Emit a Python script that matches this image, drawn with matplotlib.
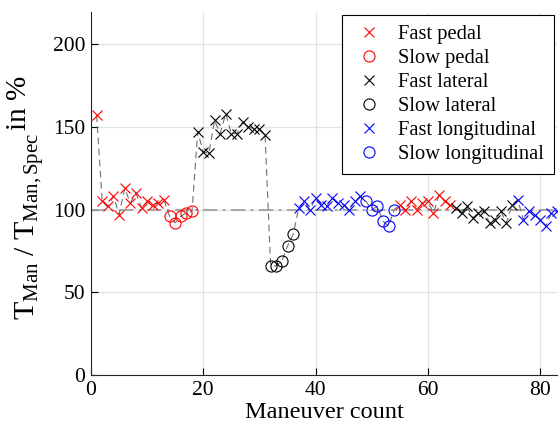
import matplotlib
matplotlib.use("Agg")
import matplotlib.pyplot as plt
import numpy as np

plt.rcParams['font.family'] = ['Liberation Serif', 'DejaVu Serif']
plt.rcParams['mathtext.fontset'] = 'custom'
plt.rcParams['mathtext.rm'] = 'Liberation Serif'
plt.rcParams['mathtext.it'] = 'Liberation Serif:italic'

# ---- data ----
fast_pedal_x1 = list(range(1, 14))
fast_pedal_y1 = [157, 105, 102, 108, 97, 113, 104, 110, 101, 105, 103, 104, 106]
slow_pedal_x = list(range(14, 19))
slow_pedal_y = [96, 92, 96, 98, 99]
fast_lateral_x1 = list(range(19, 32))
fast_lateral_y1 = [147, 135, 134, 154, 146, 158, 146, 146, 153, 150, 149, 149, 145]
slow_lateral_x = list(range(32, 37))
slow_lateral_y = [66, 66, 69, 78, 85]
fast_long_x1 = list(range(37, 49))
fast_long_y1 = [101, 105, 100, 107, 103, 102, 107, 104, 103, 100, 105, 108]
slow_long_x = list(range(49, 55))
slow_long_y = [105, 100, 102, 93, 90, 100]
fast_pedal_x2 = list(range(55, 65))
fast_pedal_y2 = [103, 100, 105, 100, 104, 105, 98, 109, 105, 103]
fast_lateral_x2 = list(range(65, 76))
fast_lateral_y2 = [101, 98, 102, 95, 98, 99, 92, 94, 99, 92, 103]
fast_long_x2 = list(range(76, 84))
fast_long_y2 = [106, 94, 99, 97, 94, 90, 98, 99]

reference_level = 100
x_ticks = [0, 20, 40, 60, 80]
y_ticks = [0, 50, 100, 150, 200]

# ---- figure ----
fig = plt.figure(figsize=(5.58, 4.37), dpi=100)
ax = fig.add_axes([91/558, 1-375/437, 466/558, 363/437])

all_x = (fast_pedal_x1 + slow_pedal_x + fast_lateral_x1 + slow_lateral_x +
         fast_long_x1 + slow_long_x + fast_pedal_x2 + fast_lateral_x2 + fast_long_x2)
all_y = (fast_pedal_y1 + slow_pedal_y + fast_lateral_y1 + slow_lateral_y +
         fast_long_y1 + slow_long_y + fast_pedal_y2 + fast_lateral_y2 + fast_long_y2)

ax.axhline(reference_level, color='#a0a0a0', linestyle=(0, (8, 3, 1.5, 3)), lw=1.3, zorder=1)
ax.plot(all_x, all_y, color='#707070', linestyle=(0, (6, 4)), lw=0.8, zorder=2)

ms_x = 6.5
ms_o = 8
mew = 0.8
ax.plot(fast_pedal_x1, fast_pedal_y1, 'x', color='red', ms=ms_x, mew=mew, label='Fast pedal', zorder=3)
ax.plot(fast_pedal_x2, fast_pedal_y2, 'x', color='red', ms=ms_x, mew=mew, zorder=3)
ax.plot(slow_pedal_x, slow_pedal_y, 'o', mfc='none', mec='red', ms=ms_o, mew=mew, label='Slow pedal', zorder=3)
ax.plot(fast_lateral_x1, fast_lateral_y1, 'x', color='black', ms=ms_x, mew=mew, label='Fast lateral', zorder=3)
ax.plot(fast_lateral_x2, fast_lateral_y2, 'x', color='black', ms=ms_x, mew=mew, zorder=3)
ax.plot(slow_lateral_x, slow_lateral_y, 'o', mfc='none', mec='black', ms=ms_o, mew=mew, label='Slow lateral', zorder=3)
ax.plot(fast_long_x1, fast_long_y1, 'x', color='blue', ms=ms_x, mew=mew, label='Fast longitudinal', zorder=3)
ax.plot(fast_long_x2, fast_long_y2, 'x', color='blue', ms=ms_x, mew=mew, zorder=3)
ax.plot(slow_long_x, slow_long_y, 'o', mfc='none', mec='blue', ms=ms_o, mew=mew, label='Slow longitudinal', zorder=3)

ax.set_xlim(0, 83)
ax.set_ylim(0, 219.5)
ax.set_xticks(x_ticks)
ax.set_yticks(y_ticks)
ax.tick_params(direction='in', length=5, width=0.8, labelsize=15.5, pad=4)
ax.grid(True, color='#e3e3e3', lw=0.9)
ax.set_axisbelow(True)
for s in ['top', 'right']:
    ax.spines[s].set_visible(False)
for s in ['left', 'bottom']:
    ax.spines[s].set_color('#262626')
    ax.spines[s].set_linewidth(0.8)

ax.set_xlabel('Maneuver count', fontsize=17.5, labelpad=2)

fig.text(30/558, 1-226/437, r'$\mathrm{T_{Man}\ /\ T_{Man,Spec}}$', rotation=90,
         ha='center', va='center', fontsize=21.5)
fig.text(19/558, 1-103/437, 'in %', rotation=90, ha='center', va='center', fontsize=21)

leg = ax.legend(loc='upper right', bbox_to_anchor=(0.993, 0.993), borderaxespad=0,
                fontsize=14.8, frameon=True, fancybox=False, framealpha=1,
                edgecolor='black', labelspacing=0.22, handlelength=1.6,
                handletextpad=0.6, borderpad=0.5)
leg.get_frame().set_linewidth(0.8)

fig.savefig('out.png', dpi=100)
